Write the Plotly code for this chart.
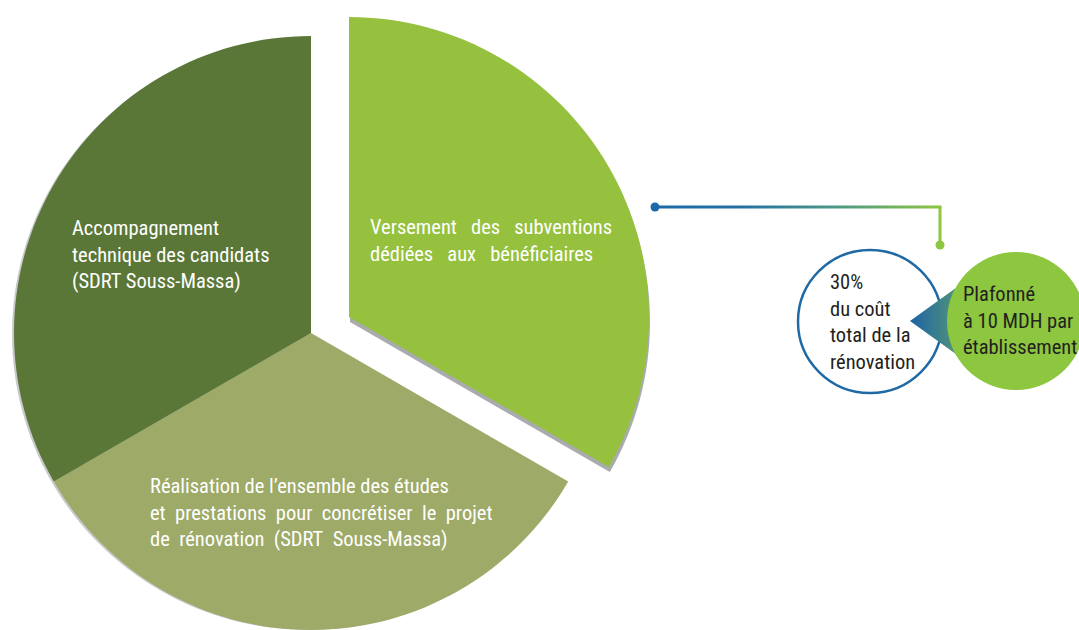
import plotly.graph_objects as go

W, H = 1079, 630

# ---- data ----
categories = ["Versement des subventions dédiées aux bénéficiaires",
              "Réalisation de l'ensemble des études et prestations pour concrétiser le projet de rénovation (SDRT Souss-Massa)",
              "Accompagnement technique des candidats (SDRT Souss-Massa)"]
values = [1, 1, 1]
slice_colors = ["#95c13e", "#9eaa68", "#5a7737"]

label_versement = ["Versement\u00a0\u00a0 des\u00a0\u00a0 subventions",
                   "dédiées\u00a0\u00a0 aux\u00a0\u00a0 bénéficiaires"]
label_realisation = ["Réalisation de l\u2019ensemble des études",
                     "et\u00a0 prestations\u00a0 pour\u00a0 concrétiser\u00a0 le\u00a0 projet",
                     "de\u00a0 rénovation\u00a0 (SDRT\u00a0 Souss-Massa)"]
label_accomp = ["Accompagnement", "technique des candidats", "(SDRT Souss-Massa)"]
bubble_left = ["30%", "du coût", "total de la", "rénovation"]
bubble_right = ["Plafonné", "à 10 MDH par", "établissement"]

FONT = "Roboto Condensed, Liberation Sans Narrow, Roboto, sans-serif"
CLEAR = "rgba(0,0,0,0)"
SHADOW = "#c8c9cc"
SHADOW2 = "#a9abae"


def dom(cx, cy, r):
    return dict(x=[(cx - r) / W, (cx + r) / W], y=[(H - (cy + r)) / H, (H - (cy - r)) / H])


def pie(colors, domain):
    return go.Pie(values=values, labels=categories, sort=False, direction="clockwise",
                  rotation=0, textinfo="none", hoverinfo="skip", domain=domain,
                  marker=dict(colors=colors, line=dict(width=0)), showlegend=False)


fig = go.Figure()

# decorations on a pixel-mapped cartesian layer
fig.add_trace(go.Scatter(x=[655, 941.5, 941.5, 655, 655], y=[205.5, 205.5, 208.5, 208.5, 205.5],
                         fill="toself", mode="lines", line=dict(width=0),
                         fillgradient=dict(type="horizontal",
                                           colorscale=[[0, "#1d68a8"], [0.3, "#2470a4"],
                                                       [0.65, "#4f9a82"], [1, "#8dc63f"]]),
                         hoverinfo="skip", showlegend=False))
fig.add_trace(go.Scatter(x=[940, 940], y=[207, 245], mode="lines",
                         line=dict(color="#8dc63f", width=3), hoverinfo="skip", showlegend=False))
fig.add_trace(go.Scatter(x=[655], y=[207], mode="markers",
                         marker=dict(color="#1d68a8", size=9), hoverinfo="skip", showlegend=False))
fig.add_trace(go.Scatter(x=[940], y=[245], mode="markers",
                         marker=dict(color="#8dc63f", size=9), hoverinfo="skip", showlegend=False))
fig.add_trace(go.Scatter(x=[910, 992, 992, 910], y=[321, 262, 380, 321],
                         fill="toself", mode="lines", line=dict(width=0),
                         fillgradient=dict(type="horizontal",
                                           colorscale=[[0, "#1c63a5"], [1, "#79b75c"]]),
                         hoverinfo="skip", showlegend=False))

# pies: shadows, main, pulled slice
fig.add_trace(pie([CLEAR, SHADOW, SHADOW], dom(308, 334, 296)))
fig.add_trace(pie([CLEAR, slice_colors[1], slice_colors[2]], dom(311, 333, 297)))
fig.add_trace(pie([SHADOW2, CLEAR, CLEAR], dom(350, 322, 300)))
fig.add_trace(pie([slice_colors[0], CLEAR, CLEAR], dom(349, 317, 300)))

shapes = [
    dict(type="circle", xref="x", yref="y", x0=798, x1=942, y0=250, y1=393,
         fillcolor="white", line=dict(color="#1f6aa5", width=2.5), layer="below"),
    dict(type="circle", xref="x", yref="y", x0=947, x1=1085, y0=252, y1=390,
         fillcolor="#8dc63f", line=dict(width=0), layer="above"),
]


def ann(lines, x, y, color, size=20.5):
    return dict(text="<br>".join(lines), x=x, y=y, xref="x", yref="y", xanchor="left",
                yanchor="top", align="left", showarrow=False,
                font=dict(family=FONT, size=size, color=color))


annotations = [
    ann(label_accomp, 70, 214, "white"),
    ann(label_versement, 368, 213, "white"),
    ann(label_realisation, 148, 472, "white"),
    ann(bubble_left, 828, 268, "#231f20"),
    ann(bubble_right, 961, 280, "#231f20"),
]

fig.update_layout(
    width=W, height=H, margin=dict(l=0, r=0, t=0, b=0),
    paper_bgcolor="white", plot_bgcolor="white",
    xaxis=dict(range=[0, W], visible=False, fixedrange=True),
    yaxis=dict(range=[H, 0], visible=False, fixedrange=True),
    shapes=shapes, annotations=annotations, showlegend=False,
)

fig.write_html("out.html", config={"displayModeBar": False},
               post_script="document.body.style.margin='0';document.body.style.overflow='hidden';")
